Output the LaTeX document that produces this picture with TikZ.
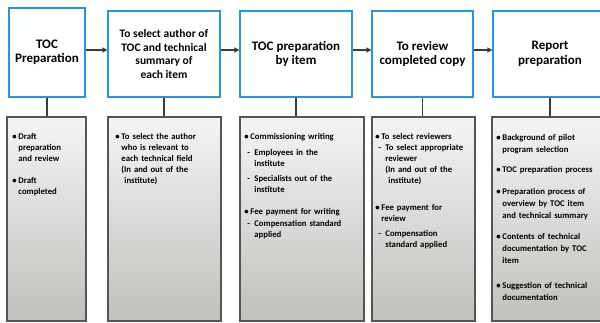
\documentclass[tikz,border=0pt]{standalone}
\usepackage{fontspec}
\setmainfont{Carlito}
\usetikzlibrary{arrows.meta}

\definecolor{stageblue}{RGB}{35,150,225}
\definecolor{flowgray}{RGB}{60,62,50}
\definecolor{boxedge}{RGB}{85,85,85}
\definecolor{boxtop}{RGB}{244,244,244}
\definecolor{boxbottom}{RGB}{192,192,188}

\newcommand{\bul}[2][0pt]{\par\vspace{#1}\hangindent=6pt\hangafter=1\noindent\makebox[6pt][l]{\textbullet}#2}
\newcommand{\dsh}[2][0pt]{\par\vspace{#1}\hangindent=10pt\hangafter=1\noindent\hspace*{3pt}\makebox[7pt][l]{-}#2}

\begin{document}
\begin{tikzpicture}
[
    x=1pt, y=-1pt,
    stage/.style={draw=stageblue, line width=1.2pt, fill=white, minimum height=86pt, align=center, inner sep=2pt, font=\bfseries\fontsize{13}{14.5}\selectfont},
    detail/.style={draw=boxedge, line width=1.6pt, top color=boxtop, bottom color=boxbottom, minimum height=204pt},
    note/.style={anchor=north west, inner sep=0pt, align=left, font=\bfseries\fontsize{8.7}{11}\selectfont},
    flow/.style={draw=flowgray, line width=1.5pt, -{Triangle[length=5pt,width=5pt]}},
    link/.style={draw=flowgray, line width=1.5pt},
]
\clip (0,0) rectangle (600,323);
\fill [white] (0,0) rectangle (600,323);

\node [stage, minimum width=76pt, minimum height=89pt] (s1) at (47,52.5) {TOC\\Preparation};
\node [stage, minimum width=112pt, font=\bfseries\fontsize{11.5}{13.5}\selectfont] (s2) at (164,54) {To select author of\\TOC and technical\\summary of\\each item};
\node [stage, minimum width=112pt] (s3) at (296,54) {TOC preparation\\by item};
\node [stage, minimum width=101pt] (s4) at (422.5,54) {To review\\completed copy};
\node [stage, minimum width=114pt] (s5) at (550,54) {Report\\preparation};

\node [detail, minimum width=79pt] (g1) at (46.5,219) {};
\node [detail, minimum width=113pt] (g2) at (164.5,219) {};
\node [detail, minimum width=124pt] (g3) at (302,219) {};
\node [detail, minimum width=103pt] (g4) at (423.5,219) {};
\node [detail, minimum width=110pt] (g5) at (547,219) {};

\draw [flow] ([yshift=4pt]s2.west -| s1.east) -- ([yshift=4pt]s2.west);
\draw [flow] ([yshift=4pt]s2.east) -- ([yshift=4pt]s3.west);
\draw [flow] ([yshift=4pt]s3.east) -- ([yshift=4pt]s4.west);
\draw [flow] ([yshift=4pt]s4.east) -- ([yshift=4pt]s5.west);

\draw [link] (s1.south) -- (s1.south |- g1.north);
\draw [link] (s2.south) -- (s2.south |- g2.north);
\draw [link] (s3.south) -- (s3.south |- g3.north);
\draw [link] (s4.south) -- (s4.south |- g4.north);
\draw [link] (s5.south) -- (s5.south |- g5.north);

\node [note, text width=76pt] (n1) at ([xshift=6pt,yshift=-12pt]g1.north west)
{\bul{Draft\newline preparation\newline and review}\bul[11pt]{Draft\newline completed}\par};
\node [note, text width=110pt] (n2) at ([xshift=8pt,yshift=-12pt]g2.north west)
{\bul{To select the author\newline who is relevant to\newline each technical field\newline (In and out of the\newline\hspace*{3pt}institute)}\par};
\node [note, text width=124pt] (n3) at ([xshift=5pt,yshift=-12pt]g3.north west)
{\bul{Commissioning writing}\dsh[5pt]{Employees in the\newline institute}\dsh[4pt]{Specialists out of the\newline institute}\bul[11pt]{Fee payment for writing}\dsh[1pt]{Compensation standard\newline applied}\par};
\node [note, text width=104pt] (n4) at ([xshift=4pt,yshift=-12pt]g4.north west)
{\bul{To select reviewers}\dsh{To select appropriate\newline reviewer\newline (In and out of the\newline\hspace*{3pt}institute)}\bul[16pt]{Fee payment for\newline review}\dsh[4pt]{Compensation\newline standard applied}\par};
\node [note, text width=116pt, font=\bfseries\fontsize{8.7}{12}\selectfont] (n5) at ([xshift=5pt,yshift=-12pt]g5.north west)
{\bul{Background of pilot\newline program selection}\bul[8pt]{TOC preparation process}\bul[10pt]{Preparation process of\newline overview by TOC item\newline and technical summary}\bul[9pt]{Contents of technical\newline documentation by TOC\newline item}\bul[13pt]{Suggestion of technical\newline documentation}\par};
\end{tikzpicture}
\end{document}
